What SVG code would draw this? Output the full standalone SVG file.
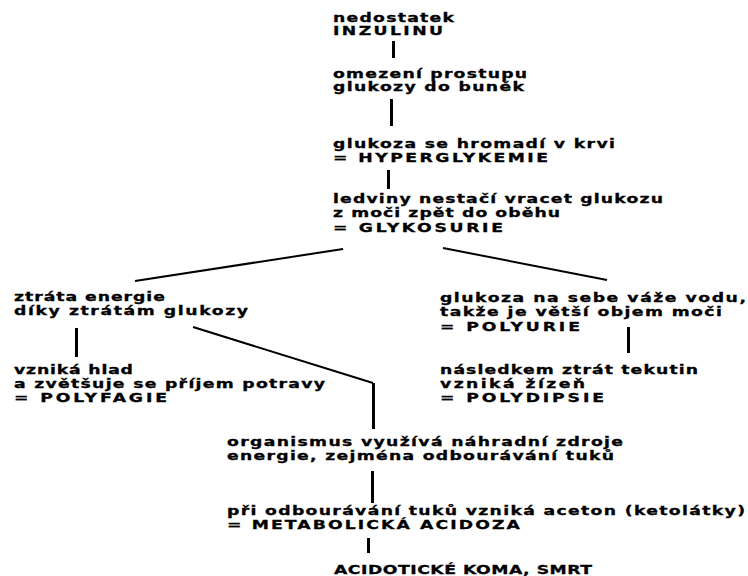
<svg xmlns="http://www.w3.org/2000/svg" width="748" height="576" viewBox="0 0 748 576">
  <style>
    .t { font-family: "DejaVu Sans", "Verdana", sans-serif; font-weight: bold; font-size: 12.5px; fill: #000; stroke: #000; stroke-width: 0.3; }
    .v { stroke: #000; stroke-width: 3; fill: none; shape-rendering: crispEdges; }
    .d { stroke: #000; stroke-width: 2; fill: none; }
  </style>
  <rect width="748" height="576" fill="#fff"/>

  <!-- connectors -->
  <g id="connectors">
    <line class="v" x1="393" y1="41" x2="393" y2="58"/>
    <line class="v" x1="391" y1="99" x2="391" y2="126"/>
    <line class="v" x1="388" y1="170" x2="388" y2="189"/>
    <line class="d" x1="343" y1="249" x2="135" y2="281"/>
    <line class="d" x1="443" y1="248" x2="607" y2="280"/>
    <line class="v" x1="76" y1="328" x2="76" y2="357"/>
    <line class="d" x1="193" y1="327" x2="373" y2="383"/>
    <line class="v" x1="373" y1="383" x2="373" y2="429"/>
    <line class="v" x1="628" y1="327" x2="628" y2="353"/>
    <line class="v" x1="372" y1="471" x2="372" y2="503"/>
    <line class="v" x1="368" y1="538" x2="368" y2="553"/>
  </g>

  <!-- nodes: glyphs widened 1.38x, each line stretched to its printed width -->
  <g id="n-nedostatek" transform="translate(333 22) scale(1.38 1)">
    <text class="t" x="0" y="0" textLength="87.7" lengthAdjust="spacing">nedostatek</text>
    <text class="t" x="0" y="13.5" textLength="79.7" lengthAdjust="spacing">INZULINU</text>
  </g>

  <g id="n-omezeni" transform="translate(333 78) scale(1.38 1)">
    <text class="t" x="0" y="0" textLength="140.6" lengthAdjust="spacing">omezení prostupu</text>
    <text class="t" x="0" y="13.5" textLength="138.4" lengthAdjust="spacing">glukozy do buněk</text>
  </g>

  <g id="n-hyperglykemie" transform="translate(333 148) scale(1.38 1)">
    <text class="t" x="0" y="0" textLength="204.3" lengthAdjust="spacing">glukoza se hromadí v krvi</text>
    <text class="t" x="0" y="14.5" textLength="155.8" lengthAdjust="spacing">= HYPERGLYKEMIE</text>
  </g>

  <g id="n-glykosurie" transform="translate(333 203) scale(1.38 1)">
    <text class="t" x="0" y="0" textLength="239.1" lengthAdjust="spacing">ledviny nestačí vracet glukozu</text>
    <text class="t" x="0" y="14.5" textLength="164.5" lengthAdjust="spacing">z moči zpět do oběhu</text>
    <text class="t" x="0" y="29" textLength="123.2" lengthAdjust="spacing">= GLYKOSURIE</text>
  </g>

  <g id="n-ztrata-energie" transform="translate(14 301) scale(1.38 1)">
    <text class="t" x="0" y="0" textLength="109.4" lengthAdjust="spacing">ztráta energie</text>
    <text class="t" x="0" y="14.5" textLength="169.6" lengthAdjust="spacing">díky ztrátám glukozy</text>
  </g>

  <g id="n-polyfagie" transform="translate(14 374) scale(1.38 1)">
    <text class="t" x="0" y="0" textLength="86.2" lengthAdjust="spacing">vzniká hlad</text>
    <text class="t" x="0" y="14" textLength="225.4" lengthAdjust="spacing">a zvětšuje se příjem potravy</text>
    <text class="t" x="0" y="28" textLength="110.9" lengthAdjust="spacing">= POLYFAGIE</text>
  </g>

  <g id="n-polyurie" transform="translate(440 302) scale(1.38 1)">
    <text class="t" x="0" y="0" textLength="221.7" lengthAdjust="spacing">glukoza na sebe váže vodu,</text>
    <text class="t" x="0" y="14.5" textLength="204.3" lengthAdjust="spacing">takže je větší objem moči</text>
    <text class="t" x="0" y="29" textLength="101.4" lengthAdjust="spacing">= POLYURIE</text>
  </g>

  <g id="n-polydipsie" transform="translate(440 374) scale(1.38 1)">
    <text class="t" x="0" y="0" textLength="187" lengthAdjust="spacing">následkem ztrát tekutin</text>
    <text class="t" x="0" y="14" textLength="105.1" lengthAdjust="spacing">vzniká žízeň</text>
    <text class="t" x="0" y="28" textLength="118.8" lengthAdjust="spacing">= POLYDIPSIE</text>
  </g>

  <g id="n-nahradni-zdroje" transform="translate(227 446) scale(1.38 1)">
    <text class="t" x="0" y="0" textLength="287" lengthAdjust="spacing">organismus využívá náhradní zdroje</text>
    <text class="t" x="0" y="14" textLength="280.4" lengthAdjust="spacing">energie, zejména odbourávání tuků</text>
  </g>

  <g id="n-acidoza" transform="translate(227 515) scale(1.38 1)">
    <text class="t" x="0" y="0" textLength="375.4" lengthAdjust="spacing">při odbourávání tuků vzniká aceton (ketolátky)</text>
    <text class="t" x="0" y="14" textLength="212.3" lengthAdjust="spacing">= METABOLICKÁ ACIDOZA</text>
  </g>

  <g id="n-koma" transform="translate(334 574) scale(1.38 1)">
    <text class="t" x="0" y="0" textLength="187" lengthAdjust="spacing">ACIDOTICKÉ KOMA, SMRT</text>
  </g>
</svg>
